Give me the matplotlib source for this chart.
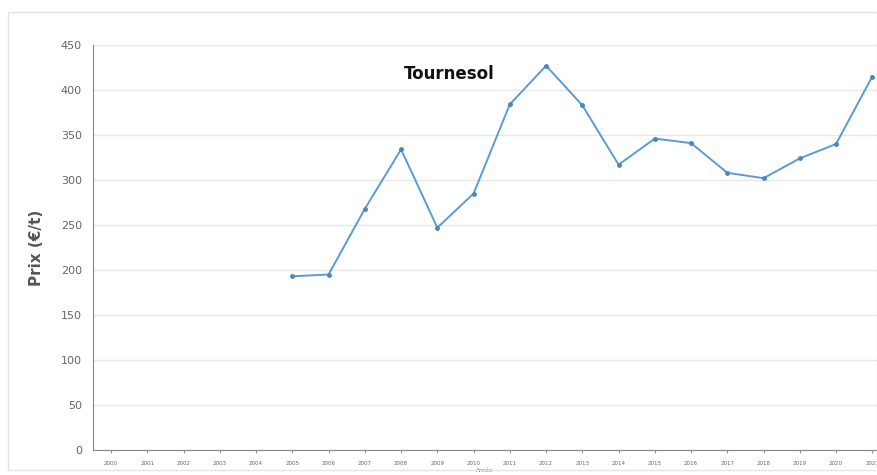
import matplotlib.pyplot as plt
from matplotlib.patches import Rectangle

# Données
annees = [str(a) for a in range(2000, 2022)]
annees_prix = list(range(5, 22))  # indices 2005..2021
prix = [193, 195, 268, 334, 247, 285, 384, 427, 383, 317, 346, 341, 308, 302, 324, 340, 415]
yticks = list(range(0, 451, 50))

fig = plt.figure(figsize=(8.77, 4.75), dpi=100)
fig.patches.append(Rectangle((8 / 877, 1 - 470 / 475), 869 / 877, 458 / 475,
                             transform=fig.transFigure, fill=False,
                             edgecolor='#e4e4e4', linewidth=1))

ax = fig.add_axes([93 / 877, 1 - 450 / 475, 1 - 93 / 877, 405 / 475])
ax.plot(annees_prix, prix, color='#5b9bd5', linewidth=1.4,
        marker='o', markersize=2.5, markerfacecolor='#4a86c0', markeredgecolor='#4a86c0')

ax.set_ylim(0, 450)
ax.set_xlim(-0.5, 21.13)
ax.set_yticks(yticks)
ax.set_xticks(range(len(annees)))
ax.set_xticklabels(annees, fontsize=4, color='#666666')
ax.tick_params(axis='y', labelsize=8, labelcolor='#666666', length=0, pad=8)
ax.tick_params(axis='x', length=2, color='#999999', pad=6)
ax.grid(axis='y', color='#e8e8e8', linewidth=1)
ax.set_axisbelow(True)

for s in ['top', 'right']:
    ax.spines[s].set_visible(False)
ax.spines['left'].set_color('#888888')
ax.spines['bottom'].set_color('#888888')

ax.set_ylabel('Prix (€/t)', fontsize=11, fontweight='bold', color='#555555', labelpad=12)
ax.set_xlabel('Année', fontsize=4, color='#666666', labelpad=1)
fig.text(449 / 877, 1 - 74 / 475, 'Tournesol', fontsize=12, fontweight='bold',
         ha='center', va='center', color='#111111')

fig.savefig('out.png', dpi=100)
